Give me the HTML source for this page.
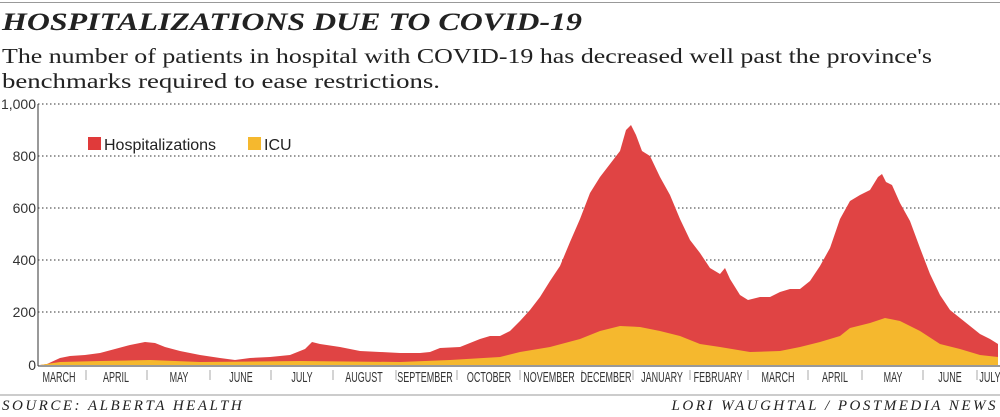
<!DOCTYPE html><html><head><style>
body{margin:0;width:1000px;height:417px;background:#fff;overflow:hidden;position:relative;font-family:"Liberation Sans",sans-serif}
.f{position:absolute;top:398px;font:italic 15px "Liberation Serif",serif;letter-spacing:2.5px;color:#222}
</style></head><body>
<svg width="1000" height="417" style="position:absolute;left:0;top:0">
<line x1="0" y1="2.5" x2="1000" y2="2.5" stroke="#999"/>
<text x="2" y="30" font-family="Liberation Serif,serif" font-style="italic" font-weight="bold" font-size="25" fill="#222" textLength="580" lengthAdjust="spacingAndGlyphs">HOSPITALIZATIONS DUE TO COVID-19</text>
<text x="2" y="63" font-family="Liberation Serif,serif" font-size="21" fill="#222" textLength="930" lengthAdjust="spacingAndGlyphs">The number of patients in hospital with COVID-19 has decreased well past the province's</text>
<text x="2" y="88" font-family="Liberation Serif,serif" font-size="21" fill="#222" textLength="438" lengthAdjust="spacingAndGlyphs">benchmarks required to ease restrictions.</text>
<g stroke="#333" stroke-dasharray="1.5,2.5" stroke-width="1">
<line x1="38" y1="104" x2="1000" y2="104"/><line x1="38" y1="156" x2="1000" y2="156"/><line x1="38" y1="208" x2="1000" y2="208"/><line x1="38" y1="260" x2="1000" y2="260"/><line x1="38" y1="312" x2="1000" y2="312"/></g>
<polygon fill="#e04444" points="40,365 47,364 60,358 70,356 85,355 100,353 115,349 130,345 145,342 155,343 165,347 180,351 200,355 220,358 235,360 250,358 270,357 290,355 305,349 312,342 320,344 340,347 360,351 380,352 400,353 420,353 430,352 440,348 460,347 480,339 490,336 500,336 510,331 520,321 530,310 540,297 550,281 560,266 570,242 580,219 590,193 600,177 610,164 620,151 626,130 631,125 636,135 642,151 650,156 660,177 670,195 680,219 690,240 700,253 710,268 720,274 725,268 730,279 740,295 748,300 760,297 770,297 780,292 790,289 800,289 810,281 820,266 830,248 840,219 850,201 860,195 870,190 878,177 882,174 886,182 892,185 900,203 910,221 920,248 930,274 940,295 950,310 960,318 970,326 980,334 990,339 998,344 998,365"/>
<polygon fill="#f5b82e" points="40,365 60,362 100,361 150,360 200,362 300,361 400,362 450,360 500,357 520,352 550,347 580,339 600,331 620,326 640,327 660,331 680,336 700,344 720,347 750,352 780,351 800,347 820,342 840,336 850,328 870,323 885,318 900,321 920,331 940,344 960,349 980,355 998,357 998,365"/>
<line x1="38" y1="104" x2="38" y2="366" stroke="#333"/><line x1="38" y1="366" x2="1000" y2="366" stroke="#333"/>
<g stroke="#aaa"><path d="M86 370v10M147 370v10M210 370v10M271 370v10M333 370v10M396 370v10M457 370v10M520 370v10M582 370v10M633 370v10M690 370v10M748 370v10M808 370v10M862 370v10M923 370v10M977 370v10"/></g>
<g font-size="14" fill="#333" text-anchor="end" font-family="Liberation Sans,sans-serif"><text x="36" y="109">1,000</text><text x="36" y="161">800</text><text x="36" y="213">600</text><text x="36" y="265">400</text><text x="36" y="317">200</text><text x="36" y="370">0</text></g>
<g font-size="15" fill="#333" text-anchor="middle" font-family="Liberation Sans,sans-serif">
<text transform="translate(59,382) scale(0.6,1)">MARCH</text>
<text transform="translate(116,382) scale(0.6,1)">APRIL</text>
<text transform="translate(179,382) scale(0.6,1)">MAY</text>
<text transform="translate(241,382) scale(0.6,1)">JUNE</text>
<text transform="translate(302,382) scale(0.6,1)">JULY</text>
<text transform="translate(364,382) scale(0.6,1)">AUGUST</text>
<text transform="translate(425,382) scale(0.6,1)">SEPTEMBER</text>
<text transform="translate(489,382) scale(0.6,1)">OCTOBER</text>
<text transform="translate(549,382) scale(0.6,1)">NOVEMBER</text>
<text transform="translate(606,382) scale(0.6,1)">DECEMBER</text>
<text transform="translate(662,382) scale(0.6,1)">JANUARY</text>
<text transform="translate(718,382) scale(0.6,1)">FEBRUARY</text>
<text transform="translate(778,382) scale(0.6,1)">MARCH</text>
<text transform="translate(835,382) scale(0.6,1)">APRIL</text>
<text transform="translate(893,382) scale(0.6,1)">MAY</text>
<text transform="translate(950,382) scale(0.6,1)">JUNE</text>
<text transform="translate(990,382) scale(0.6,1)">JULY</text></g>
<rect x="88" y="137" width="13" height="13" fill="#e03a3a"/><text x="104" y="150" font-size="16" fill="#222">Hospitalizations</text>
<rect x="248" y="137" width="13" height="13" fill="#f5b82e"/><text x="264" y="150" font-size="16" fill="#222">ICU</text>
<line x1="0" y1="395" x2="1000" y2="395" stroke="#999"/>
</svg>
<div class="f" style="left:2px">SOURCE: ALBERTA HEALTH</div>
<div class="f" style="right:2px">LORI WAUGHTAL / POSTMEDIA NEWS</div>
</body></html>
